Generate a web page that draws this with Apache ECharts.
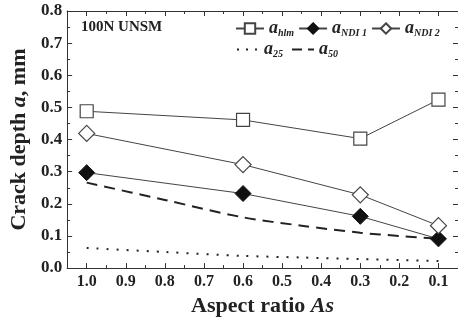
<!DOCTYPE html>
<html>
<head>
<meta charset="utf-8">
<script src="https://cdn.jsdelivr.net/npm/echarts@6/dist/echarts.min.js"></script>
<style>
html,body{margin:0;padding:0;background:#fff;}
#c{width:458px;height:322px;}
</style>
</head>
<body>
<div id="c"></div>
<script>
// ---- data ----
var xMarkers = [1.0, 0.6, 0.3, 0.1];
var aHlm  = [0.488, 0.461, 0.403, 0.524];
var aNdi1 = [0.297, 0.232, 0.161, 0.091];
var aNdi2 = [0.419, 0.322, 0.228, 0.132];
var xCurve = [1.0, 0.8, 0.6, 0.45, 0.3, 0.2, 0.1];
var a50 = [0.266, 0.212, 0.158, 0.132, 0.110, 0.100, 0.091];
var a25 = [0.0625, 0.050, 0.038, 0.033, 0.028, 0.025, 0.022];
var xTicks = [1.0, 0.9, 0.8, 0.7, 0.6, 0.5, 0.4, 0.3, 0.2, 0.1];
var xMinorTicks = [0.95, 0.85, 0.75, 0.65, 0.55, 0.45, 0.35, 0.25, 0.15];

function pairs(xs, ys){ return xs.map(function(x,i){return [x, ys[i]];}); }

var FONT = 'Liberation Serif';
var INK = '#333';

var rich = {
  a: {fontFamily: FONT, fontWeight: 'bold', fontStyle: 'italic', fontSize: 18, color: '#222', lineHeight: 20},
  s: {fontFamily: FONT, fontWeight: 'bold', fontStyle: 'italic', fontSize: 10, color: '#222', lineHeight: 20, padding: [9,0,0,0]}
};
var subs = {'hlm':'hlm', 'NDI 1':'NDI 1', 'NDI 2':'NDI 2', '25':'25', '50':'50'};
function legendFmt(name){ return '{a|a}{s|' + subs[name] + '}'; }

function xAx(pos, ticks, len, showLine, showLabel){
  return {
    type: 'value', position: pos, inverse: true, min: 0.05, max: 1.05,
    axisLine: {show: showLine, lineStyle: {color: INK, width: 1}},
    splitLine: {show: false},
    axisTick: {show: true, inside: true, length: len, customValues: ticks, lineStyle: {color: INK}},
    axisLabel: showLabel ? {show: true, customValues: xTicks, margin: 6,
        formatter: function(v){return v.toFixed(1);},
        fontFamily: FONT, fontWeight: 'bold', fontSize: 16, color: '#222'} : {show: false}
  };
}

var xAxes = [xAx('bottom', xTicks, 5, true, true), xAx('bottom', xMinorTicks, 3, false, false),
             xAx('top', xTicks, 5, true, false), xAx('top', xMinorTicks, 3, false, false)];
xAxes[0].name = '{n|Aspect ratio }{i|As}';
xAxes[0].nameLocation = 'middle';
xAxes[0].nameGap = 24;
xAxes[0].nameTextStyle = {rich: {
  n: {fontFamily: FONT, fontWeight: 'bold', fontSize: 22, color: '#222'},
  i: {fontFamily: FONT, fontWeight: 'bold', fontStyle: 'italic', fontSize: 22, color: '#222'}
}};

function yAx(pos, showLabel){
  return {
    type: 'value', position: pos, min: 0, max: 0.8, interval: 0.1,
    axisLine: {show: true, lineStyle: {color: INK, width: 1}},
    splitLine: {show: false},
    axisTick: {show: true, inside: true, length: 5, lineStyle: {color: INK}},
    minorTick: {show: true, splitNumber: 2, length: 3, lineStyle: {color: INK}},
    minorSplitLine: {show: false},
    axisLabel: showLabel ? {show: true, margin: 5, formatter: function(v){return v.toFixed(1);},
        fontFamily: FONT, fontWeight: 'bold', fontSize: 17, color: '#222'} : {show: false}
  };
}
var yAxes = [yAx('left', true), yAx('right', false)];
yAxes[0].name = '{n|Crack depth }{i|a}{n|, mm}';
yAxes[0].nameLocation = 'middle';
yAxes[0].nameGap = 36;
yAxes[0].nameRotate = 90;
yAxes[0].nameTextStyle = {rich: {
  n: {fontFamily: FONT, fontWeight: 'bold', fontSize: 22, color: '#222'},
  i: {fontFamily: FONT, fontWeight: 'bold', fontStyle: 'italic', fontSize: 22, color: '#222'}
}};

var chart = echarts.init(document.getElementById('c'), null, {renderer: 'canvas'});
chart.setOption({
  animation: false,
  backgroundColor: '#fff',
  title: {text: '100N UNSM', left: 76, top: 15,
    textStyle: {fontFamily: FONT, fontWeight: 'bold', fontSize: 15, color: '#222'}},
  grid: {left: 67, top: 11, width: 396, height: 262, containLabel: false},
  xAxis: xAxes,
  yAxis: yAxes,
  legend: [
    {data: ['hlm', 'NDI 1', 'NDI 2'], left: 230, top: 14, itemWidth: 28, itemHeight: 13, itemGap: 4,
     formatter: legendFmt, textStyle: {rich: rich}},
    {data: [
        {name: '25', itemStyle: {opacity: 0}, lineStyle: {type: [2, 7], width: 2, color: '#222'}},
        {name: '50', itemStyle: {opacity: 0}, lineStyle: {type: [10, 6], width: 2, color: '#222'}}
     ],
     left: 231, top: 35, itemWidth: 22, itemHeight: 13, itemGap: 8,
     formatter: legendFmt, textStyle: {rich: rich}}
  ],
  series: [
    {name: 'hlm', type: 'line', data: pairs(xMarkers, aHlm), symbol: 'rect', symbolSize: 13,
     itemStyle: {color: '#fff', borderColor: '#444', borderWidth: 1.2},
     lineStyle: {color: '#444', width: 1}, z: 5},
    {name: 'NDI 1', type: 'line', data: pairs(xMarkers, aNdi1), symbol: 'diamond', symbolSize: 16,
     itemStyle: {color: '#111', borderColor: '#111', borderWidth: 1},
     lineStyle: {color: '#444', width: 1}, z: 5},
    {name: 'NDI 2', type: 'line', data: pairs(xMarkers, aNdi2), symbol: 'diamond', symbolSize: 16,
     itemStyle: {color: '#fff', borderColor: '#444', borderWidth: 1.2},
     lineStyle: {color: '#444', width: 1}, z: 5},
    {name: '25', type: 'line', data: pairs(xCurve, a25), symbol: 'none', smooth: 0.3,
     itemStyle: {color: '#222'},
     lineStyle: {color: '#222', width: 2, type: [2, 8]}, z: 3},
    {name: '50', type: 'line', data: pairs(xCurve, a50), symbol: 'none', smooth: 0.3,
     itemStyle: {color: '#222'},
     lineStyle: {color: '#222', width: 2, type: [11, 7]}, z: 3}
  ]
});
</script>
</body>
</html>
